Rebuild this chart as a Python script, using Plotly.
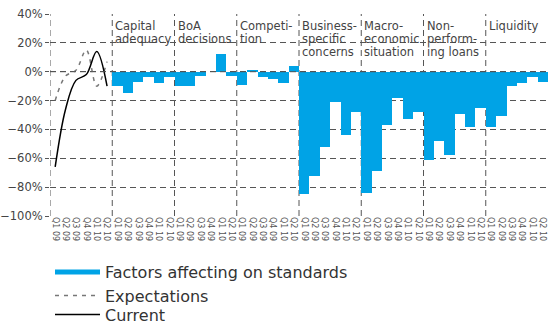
import plotly.graph_objects as go

# Quarter labels used on every panel
quarters = ["Q1 09", "Q2 09", "Q3 09", "Q4 09", "Q1 10", "Q2 10"]

# Overall credit standards (net percentages)
current = [-66, -26, -6, -2, 14, -10]
expectations = [-20, -3, 1, 15, -10, 7]

# Factors affecting on standards, one list per factor
capital_adequacy = [-10, -15, -7, -4, -8, -4]
boa_decisions = [-10, -10, -3, 0, 12, -3]
competition = [-9, 1, -4, -5, -8, 4]
business_specific = [-85, -72, -52, -21, -44, -28]
macroeconomic = [-84, -69, -37, -18, -33, -28]
non_performing = [-61, -48, -58, -29, -38, -25]
liquidity = [-38, -31, -10, -8, -4, -7]

factor_titles = [
    ["Capital", "adequacy"],
    ["BoA", "decisions"],
    ["Competi-", "tion"],
    ["Business-", "specific", "concerns"],
    ["Macro-", "economic", "situation"],
    ["Non-", "perform-", "ing loans"],
    ["Liquidity"],
]
factors = [capital_adequacy, boa_decisions, competition, business_specific,
           macroeconomic, non_performing, liquidity]

BLUE = "#00a3e6"
GRID = "#555555"
TEXT = "#444444"
FONT = "DejaVu Sans"

n_q = len(quarters)
n_groups = len(factors) + 1
x_all = list(range(n_q * n_groups))
tick_text = quarters * n_groups

bar_x, bar_y = [], []
for k, vals in enumerate(factors):
    for j, v in enumerate(vals):
        bar_x.append(n_q * (k + 1) + j)
        bar_y.append(v)

fig = go.Figure()

fig.add_trace(go.Bar(
    x=bar_x, y=bar_y, marker=dict(color=BLUE, line=dict(width=0)),
    showlegend=False, hoverinfo="skip",
))

fig.add_trace(go.Scatter(
    x=list(range(n_q)), y=expectations, mode="lines",
    line=dict(color="#777777", width=1.5, dash="4px,5px", shape="spline"),
    name="Expectations", legend="legend2",
))
fig.add_trace(go.Scatter(
    x=list(range(n_q)), y=current, mode="lines",
    line=dict(color="#000000", width=1.5, shape="spline"),
    name="Current", legend="legend3",
))
# legend entry for the bars, drawn as a thick line
fig.add_trace(go.Scatter(
    x=[None], y=[None], mode="lines",
    line=dict(color=BLUE, width=5),
    name="Factors affecting on standards", legend="legend",
))

shapes = []
for k in range(n_groups):
    xv = n_q * k - 0.5
    shapes.append(dict(
        type="line", xref="x", yref="y", x0=xv, x1=xv, y0=-100, y1=40,
        line=dict(color=GRID, width=1, dash="6px,4px"), layer="below",
    ))
shapes.append(dict(
    type="line", xref="x", yref="y", x0=-0.5, x1=len(x_all) - 0.5, y0=0, y1=0,
    line=dict(color=GRID, width=1, dash="6px,4px"), layer="above",
))

annotations = []
for k, lines in enumerate(factor_titles):
    for i, txt in enumerate(lines):
        annotations.append(dict(
            x=n_q * (k + 1) - 0.5, y=40, xref="x", yref="y",
            xanchor="left", yanchor="top", xshift=2, yshift=-4 - 12.8 * i,
            text=txt, showarrow=False, align="left", borderpad=0,
            font=dict(family=FONT, size=11.5, color=TEXT),
        ))

MT, MB, H = 14, 108, 324
paper_h = H - MT - MB


def paper_y(px):
    return (H - MB - px) / paper_h


legend_common = dict(
    x=0.0, xanchor="left", yanchor="middle", bgcolor="rgba(0,0,0,0)",
    font=dict(family=FONT, size=16, color="#333333"), itemwidth=45,
    borderwidth=0,
)

fig.update_layout(
    width=549, height=H,
    margin=dict(l=50, r=1, t=MT, b=MB, autoexpand=False),
    paper_bgcolor="white", plot_bgcolor="white",
    bargap=0,
    font=dict(family=FONT, color=TEXT),
    shapes=shapes, annotations=annotations,
    legend=dict(legend_common, y=paper_y(272)),
    legend2=dict(legend_common, y=paper_y(295.5)),
    legend3=dict(legend_common, y=paper_y(314.5)),
    xaxis=dict(
        range=[-0.5, len(x_all) - 0.5], tickmode="array",
        tickvals=x_all, ticktext=tick_text, tickangle=90,
        tickfont=dict(family=FONT, size=8, color="#555555"),
        showgrid=False, zeroline=False, showline=False, ticks="",
    ),
    yaxis=dict(
        range=[-100, 40], dtick=20, tick0=0, ticksuffix="%",
        showgrid=True, gridcolor=GRID, gridwidth=1, griddash="6px,4px",
        zeroline=False, showline=False,
        ticks="outside", ticklen=4, tickcolor=GRID,
        tickfont=dict(family=FONT, size=11.5, color=TEXT),
    ),
)

fig.write_html("out.html")
